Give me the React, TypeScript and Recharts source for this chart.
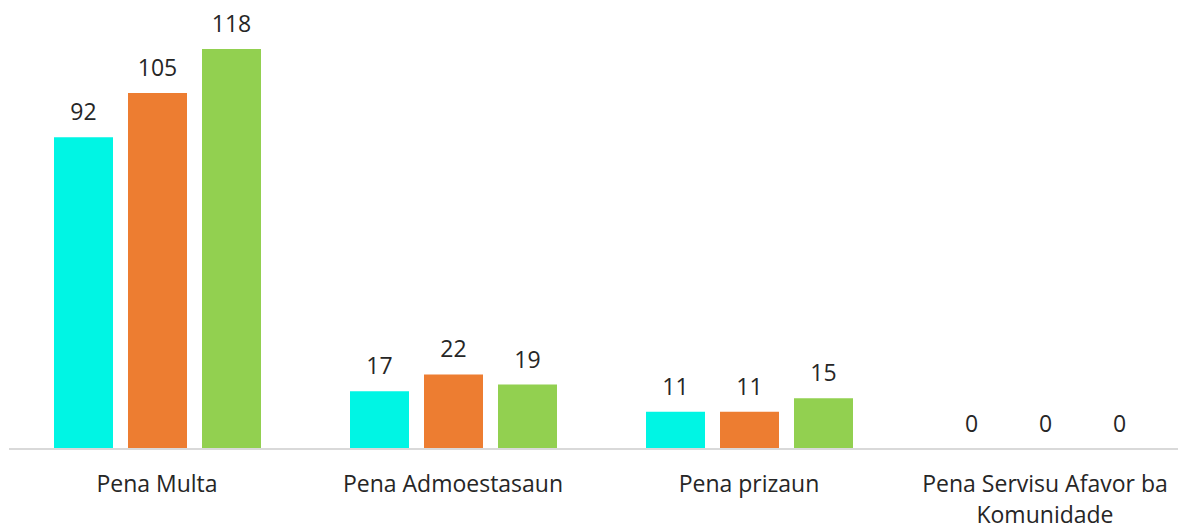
import React from 'react';
import { BarChart, Bar, XAxis, YAxis, LabelList, Rectangle } from 'recharts';

const categories = ['Pena Multa', 'Pena Admoestasaun', 'Pena prizaun', 'Pena Servisu Afavor ba Komunidade'];
const serieA = [92, 17, 11, 0];
const serieB = [105, 22, 11, 0];
const serieC = [118, 19, 15, 0];

const data = categories.map((name, i) => ({ name, a: serieA[i], b: serieB[i], c: serieC[i] }));

const FONT = '"Open Sans", sans-serif';
const FS = 23;
const MAX_W = 285;

let ctx: CanvasRenderingContext2D | null = null;
const measure = (s: string) => {
  if (!ctx) ctx = document.createElement('canvas').getContext('2d');
  if (!ctx) return s.length * FS * 0.55;
  ctx.font = `${FS}px ${FONT}`;
  return ctx.measureText(s).width;
};

// greedy word wrap for the long category name
const wrap = (s: string) => {
  const lines: string[] = [];
  let cur = '';
  s.split(' ').forEach(w => {
    const next = cur ? cur + ' ' + w : w;
    if (cur && measure(next) > MAX_W) {
      lines.push(cur);
      cur = w;
    } else {
      cur = next;
    }
  });
  if (cur) lines.push(cur);
  return lines;
};

const CategoryTick = (props: any) => {
  const { x, y, payload } = props;
  const lines = wrap(String(payload.value));
  return (
    <text x={x} y={y + 35} textAnchor="middle" fill="#262626" fontSize={FS} fontFamily={FONT}>
      {lines.map((l, i) => (
        <tspan key={i} x={x} dy={i === 0 ? 0 : 31}>{l}</tspan>
      ))}
    </text>
  );
};

const ValueLabel = (props: any) => {
  const { x, y, width, height, value } = props;
  const top = value === 0 ? y + height : y;
  return (
    <text x={x + width / 2} y={top - 17} textAnchor="middle" fontSize={FS} fontFamily={FONT} fill="#262626">
      {value}
    </text>
  );
};

// zero values get a min size so their label shows, but no visible rect
const BarShape = (props: any) => {
  if (props.value === 0 || (Array.isArray(props.value) && props.value[1] === 0)) return <g />;
  return <Rectangle {...props} />;
};

export default function App() {
  return (
    <div style={{ position: 'absolute', left: 0, top: 0, width: 1178, height: 527, overflow: 'hidden', background: '#fff' }}>
      <BarChart
        width={1200}
        height={527}
        data={data}
        margin={{ top: 49, right: 7, left: 9, bottom: 48 }}
        barSize={59}
        barGap={15}
      >
        <XAxis
          dataKey="name"
          axisLine={{ stroke: '#d9d9d9', strokeWidth: 2 }}
          tickLine={false}
          tick={<CategoryTick />}
          interval={0}
        />
        <YAxis hide domain={[0, 118]} />
        <Bar dataKey="a" fill="#00F5E4" minPointSize={1} shape={<BarShape />} isAnimationActive={false}>
          <LabelList dataKey="a" content={<ValueLabel />} />
        </Bar>
        <Bar dataKey="b" fill="#ED7D31" minPointSize={1} shape={<BarShape />} isAnimationActive={false}>
          <LabelList dataKey="b" content={<ValueLabel />} />
        </Bar>
        <Bar dataKey="c" fill="#92D050" minPointSize={1} shape={<BarShape />} isAnimationActive={false}>
          <LabelList dataKey="c" content={<ValueLabel />} />
        </Bar>
      </BarChart>
    </div>
  );
}
